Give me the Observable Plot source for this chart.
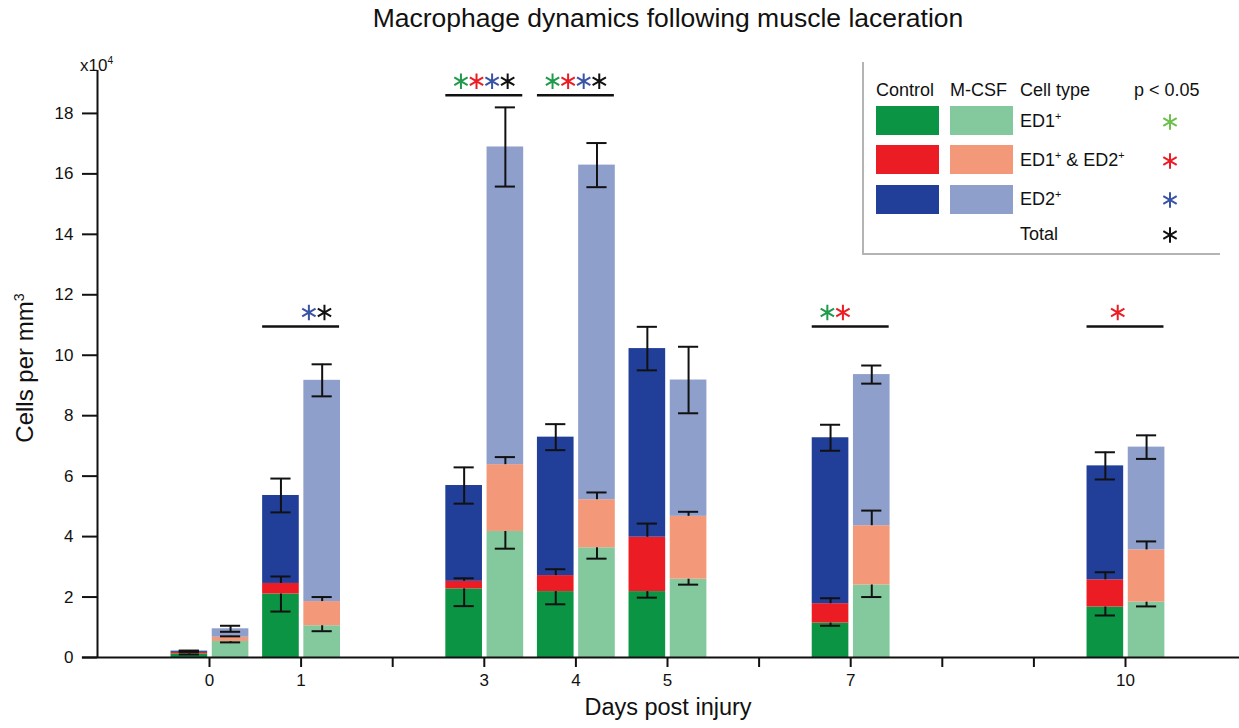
<!DOCTYPE html>
<html>
<head>
<meta charset="utf-8">
<script src="https://cdn.jsdelivr.net/npm/d3@7"></script>
<script src="https://cdn.jsdelivr.net/npm/@observablehq/plot@0.6"></script>
<style>
  body { margin: 0; background: #fff; font-family: "Liberation Sans", Arial, sans-serif; color: #111; }
  #fig { position: relative; width: 1239px; height: 728px; overflow: hidden; background: #fff; }
  #fig svg.chart { position: absolute; left: 0; top: 0; }
  .title { position: absolute; left: 97px; top: 3px; width: 1142px; text-align: center; font-size: 26.5px; }
  .xlabel { position: absolute; left: 97px; width: 1142px; top: 694px; text-align: center; font-size: 23.5px; }
  .ylabel { position: absolute; left: 25px; top: 368px; font-size: 24px; white-space: nowrap;
            transform: translate(-50%, -50%) rotate(-90deg); }
  .ylabel sup, .exp sup, .legend sup { font-size: 60%; }
  .exp { position: absolute; left: 80px; top: 55px; font-size: 17px; }
  .legend { position: absolute; left: 862px; top: 62px; width: 356px; height: 191px;
            border-left: 2px solid #b4b4b4; border-bottom: 2px solid #b4b4b4; }
  .legend .t { position: absolute; font-size: 18px; white-space: nowrap; transform: translateY(-50%); }
  .legend .sw { position: absolute; width: 63px; height: 29px; }
  .legend svg { position: absolute; overflow: visible; }
</style>
</head>
<body>
<div id="fig"></div>
<script>
// Days after injury with measurements
const days = [0, 1, 3, 4, 5, 7, 10];

// Control group: cells per mm^3 (x10^4) by cell type
const controlED1     = [0.12, 2.10, 2.27, 2.18, 2.18, 1.14, 1.67];
const controlED1ED2  = [0.05, 0.35, 0.25, 0.53, 1.80, 0.64, 0.90];
const controlED2     = [0.04, 2.91, 3.17, 4.58, 6.24, 5.49, 3.77];
const controlED1Err  = [0.02, 0.58, 0.57, 0.42, 0.20, 0.09, 0.28];
const controlED1ED2Err = [0.03, 0.23, 0.10, 0.21, 0.45, 0.18, 0.25];
const controlTotalErr  = [0.02, 0.56, 0.60, 0.43, 0.72, 0.43, 0.45];

// M-CSF group
const mcsfED1     = [0.53, 1.05, 4.17, 3.63, 2.59, 2.40, 1.83];
const mcsfED1ED2  = [0.14, 0.80, 2.21, 1.59, 2.08, 1.96, 1.73];
const mcsfED2     = [0.28, 7.32, 10.51, 11.07, 4.51, 5.00, 3.40];
const mcsfED1Err  = [0.03, 0.18, 0.57, 0.36, 0.18, 0.40, 0.14];
const mcsfED1ED2Err = [0.03, 0.15, 0.25, 0.24, 0.15, 0.50, 0.28];
const mcsfTotalErr  = [0.10, 0.53, 1.31, 0.73, 1.10, 0.30, 0.39];

// Significance (p < 0.05) per day: which comparisons, and bracket height
const sigDays   = [1, 3, 4, 7, 10];
const sigLevels = [10.95, 18.6, 18.6, 10.95, 10.95];
const sigTypes  = [
  ["ED2", "Total"],
  ["ED1", "ED1ED2", "ED2", "Total"],
  ["ED1", "ED1ED2", "ED2", "Total"],
  ["ED1", "ED1ED2"],
  ["ED1ED2"]
];

// Axis ticks
const xTicks = [0, 1, 2, 3, 4, 5, 6, 7, 8, 9, 10];
const yTicks = [0, 2, 4, 6, 8, 10, 12, 14, 16, 18];

// Legend text
const groupNames = ["Control", "M-CSF"];
const legendHeaders = ["Cell type", "p < 0.05"];
const legendLabels = ["ED1<sup>+</sup>", "ED1<sup>+</sup> &amp; ED2<sup>+</sup>", "ED2<sup>+</sup>", "Total"];

// Colours
const controlColors = ["#0b9444", "#ec1c24", "#213f99"];
const mcsfColors    = ["#84c99e", "#f4987a", "#8e9fcb"];
const starColors    = {ED1: "#1f9a4b", ED1ED2: "#ec1c24", ED2: "#3a54a5", Total: "#111111"};
const legendStarColors = ["#6cc04b", "#ec1c24", "#3a54a5", "#111111"];
const starOrder = ["ED1", "ED1ED2", "ED2", "Total"];

// Geometry of a bar pair around each day (in day units)
const groups = [
  {name: "Control", x1: -0.42, x2: -0.02, ed1: controlED1, both: controlED1ED2, ed2: controlED2,
   e1: controlED1Err, e2: controlED1ED2Err, e3: controlTotalErr, colors: controlColors},
  {name: "M-CSF", x1: 0.03, x2: 0.43, ed1: mcsfED1, both: mcsfED1ED2, ed2: mcsfED2,
   e1: mcsfED1Err, e2: mcsfED1ED2Err, e3: mcsfTotalErr, colors: mcsfColors}
];
const capHalf = 0.11;
const starSlot = 0.17;

const segments = [];
const errLines = [];
const errCaps = [];
days.forEach((d, i) => {
  for (const g of groups) {
    const vals = [g.ed1[i], g.both[i], g.ed2[i]];
    let base = 0;
    vals.forEach((v, k) => {
      segments.push({x1: d + g.x1, x2: d + g.x2, y1: base, y2: base + v, fill: g.colors[k]});
      base += v;
    });
    const cx = d + (g.x1 + g.x2) / 2;
    const top1 = vals[0], top2 = vals[0] + vals[1], top3 = base;
    // ED1: lower half; ED1+ED2: upper half; total: full bar
    errLines.push({x: cx, y1: top1 - g.e1[i], y2: top1});
    errCaps.push({x: cx, y: top1 - g.e1[i]});
    errLines.push({x: cx, y1: top2, y2: top2 + g.e2[i]});
    errCaps.push({x: cx, y: top2 + g.e2[i]});
    errLines.push({x: cx, y1: top3 - g.e3[i], y2: top3 + g.e3[i]});
    errCaps.push({x: cx, y: top3 - g.e3[i]});
    errCaps.push({x: cx, y: top3 + g.e3[i]});
  }
});

const brackets = sigDays.map((d, i) => ({x1: d - 0.42, x2: d + 0.42, y: sigLevels[i]}));
const stars = [];
sigDays.forEach((d, i) => {
  for (const t of sigTypes[i]) {
    const slot = starOrder.indexOf(t) - 1.5;
    stars.push({x: d + slot * starSlot, y: sigLevels[i], color: starColors[t]});
  }
});

const xMin = -1.2227, xMax = 11.2445, yMax = 19.42;

const chart = Plot.plot({
  width: 1239,
  height: 728,
  marginLeft: 97,
  marginRight: 0,
  marginTop: 70,
  marginBottom: 71,
  x: {domain: [xMin, xMax], axis: null},
  y: {domain: [0, yMax], axis: null},
  color: {type: "identity"},
  style: {fontFamily: "'Liberation Sans', Arial, sans-serif", color: "#111", background: "transparent"},
  marks: [
    Plot.rect(segments, {x1: "x1", x2: "x2", y1: "y1", y2: "y2", fill: "fill"}),
    Plot.ruleX(errLines, {x: "x", y1: "y1", y2: "y2", stroke: "#111", strokeWidth: 2}),
    Plot.ruleY(errCaps, {y: "y", x1: d => d.x - capHalf, x2: d => d.x + capHalf, stroke: "#111", strokeWidth: 2}),
    Plot.ruleY(brackets, {y: "y", x1: "x1", x2: "x2", stroke: "#111", strokeWidth: 2.5}),
    Plot.dot(stars, {x: "x", y: "y", dy: -14, symbol: "asterisk", r: 7.3, stroke: "color", strokeWidth: 2}),
    // axes
    Plot.ruleX([xMin], {y1: 0, y2: yMax, stroke: "#111", strokeWidth: 2}),
    Plot.ruleY([0], {x1: xMin - 0.165, x2: xMax, stroke: "#111", strokeWidth: 2}),
    Plot.axisY({ticks: yTicks, tickSize: 15, tickPadding: 9, fontSize: 17, label: null, strokeWidth: 2}),
    Plot.axisX({ticks: xTicks, tickSize: 10, tickPadding: 6, fontSize: 17, label: null, strokeWidth: 2,
                tickFormat: d => days.includes(d) ? String(d) : ""})
  ]
});
chart.classList.add("chart");

const fig = document.getElementById("fig");
fig.appendChild(chart);

function addDiv(cls, html, parent = fig) {
  const el = document.createElement("div");
  el.className = cls;
  el.innerHTML = html;
  parent.appendChild(el);
  return el;
}

addDiv("title", "Macrophage dynamics following muscle laceration");
addDiv("xlabel", "Days post injury");
addDiv("ylabel", "Cells per mm<sup>3</sup>");
addDiv("exp", "x10<sup>4</sup>");

// Legend
const legend = addDiv("legend", "");
const L = 862, T = 62;
function place(el, x, y) { el.style.left = (x - L) + "px"; el.style.top = (y - T) + "px"; }
place(addDiv("t", groupNames[0], legend), 874, 90);
place(addDiv("t", groupNames[1], legend), 948, 90);
place(addDiv("t", legendHeaders[0], legend), 1018, 90);
place(addDiv("t", legendHeaders[1], legend), 1132, 90);
const rowTops = [105.5, 145, 184.5];
const labelY = [121, 160, 199, 234];
rowTops.forEach((y, k) => {
  const a = addDiv("sw", "", legend); a.style.background = controlColors[k]; place(a, 874, y);
  const b = addDiv("sw", "", legend); b.style.background = mcsfColors[k]; place(b, 948, y);
});
const starPath = d3.symbol(d3.symbolAsterisk, Math.PI * 7.3 * 7.3)();
legendLabels.forEach((lab, k) => {
  place(addDiv("t", lab, legend), 1018, labelY[k]);
  const s = document.createElementNS("http://www.w3.org/2000/svg", "svg");
  s.setAttribute("width", "1"); s.setAttribute("height", "1");
  const p = document.createElementNS("http://www.w3.org/2000/svg", "path");
  p.setAttribute("d", starPath);
  p.setAttribute("stroke", legendStarColors[k]);
  p.setAttribute("stroke-width", "2");
  p.setAttribute("fill", "none");
  s.appendChild(p);
  legend.appendChild(s);
  place(s, 1168, labelY[k] + 1);
});
</script>
</body>
</html>
